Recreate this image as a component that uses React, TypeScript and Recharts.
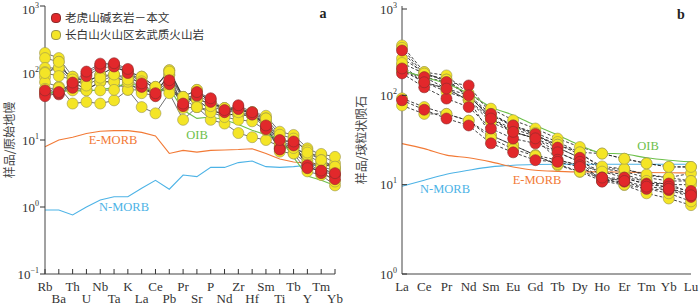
import React from "react";
import { LineChart, Line, XAxis, YAxis } from "recharts";

// primitive-mantle normalised elements (left panel)
const PM_ELEMS = ["Rb", "Ba", "Th", "U", "Nb", "Ta", "K", "La", "Ce", "Pb", "Pr", "Sr", "P", "Nd", "Zr", "Hf", "Sm", "Ti", "Tb", "Y", "Tm", "Yb"];
const PM_OIB = [50, 52, 55, 53, 57, 60, 72, 62, 52, 60, 28, 21, 22, 20, 17, 14, 12, 10.5, 5.5, 2.9, 2.5, 2.1];
const PM_EMORB = [7.9, 10, 11, 12.5, 13.5, 13.8, 13.8, 13, 11.5, 6.3, 7.0, 6.6, 7.0, 7.1, 7.2, 7.4, 6.3, 5.2, 4.7, 4.5, 4.3, 4.2];
const PM_NMORB = [0.9, 0.9, 0.76, 1.0, 1.27, 1.42, 1.42, 1.9, 2.5, 1.84, 3.0, 2.84, 3.9, 3.9, 4.6, 4.85, 4.0, 3.9, 4.0, 4.2, 4.2, 4.2];

const PM_RED = [
  [50, 48, 68, 98, 130, 135, 108, 66, 47, 72, 33, 50, 40, 27, 31, 25, 15.5, 7.5, 8.9, 4.0, 3.4, 3.0],
  [45, 50, 60, 90, 120, 125, 100, 62, 45, 68, 32, 46, 37, 26, 29, 24, 14.5, 7.2, 8.3, 4.2, 3.2, 2.6],
  [55, 52, 72, 105, 138, 140, 115, 70, 50, 78, 35, 52, 42, 28, 33, 26, 16.5, 10, 9.5, 3.8, 3.5, 3.2],
];
const PM_YELLOW = [
  [199, 167, 88, 74, 93, 123, 105, 88, 62, 110, 44, 56, 35, 30, 28, 26, 23, 13.3, 11.9, 7.5, 6, 4.5],
  [167, 147, 74, 56, 74, 93, 88, 88, 52, 93, 40, 40, 28, 24, 24, 23, 18.7, 10, 7.9, 6, 4.5, 3.8],
  [119, 119, 88, 74, 93, 93, 70, 56, 52, 62, 40, 31, 28, 24, 24, 23, 17.7, 9, 7.9, 4.5, 4, 3.5],
  [103, 119, 74, 74, 93, 123, 105, 88, 62, 110, 44, 56, 35, 30, 28, 26, 21, 10, 6.3, 3.4, 3.0, 2.1],
  [87, 147, 74, 56, 74, 74, 88, 56, 52, 93, 44, 40, 35, 30, 28, 26, 18, 7.6, 7.9, 5, 4, 3],
  [73, 62, 55, 56, 74, 74, 56, 56, 53, 56, 40, 40, 28, 24, 24, 23, 17, 6.7, 6.3, 4.5, 3.4, 2.4],
  [50, 62, 35, 37, 35, 39, 56, 31, 25, 50, 20, 31, 20, 17.6, 12.7, 11, 10, 8, 7.6, 6, 6.2, 5.6],
  [58, 60, 62, 55, 55, 56, 74, 50, 46, 100, 30, 31, 26, 22, 20, 19, 14, 9, 10, 7, 5, 3.8],
  [100, 90, 80, 65, 85, 95, 80, 75, 62, 105, 44, 45, 32, 27, 26, 24, 21, 12, 10.5, 6.5, 5, 4],
];

// chondrite normalised REE (right panel)
const REE = ["La", "Ce", "Pr", "Nd", "Sm", "Eu", "Gd", "Tb", "Dy", "Ho", "Er", "Tm", "Yb", "Lu"];
const CH_OIB = [190, 160, 135, 105, 74, 60, 46, 36, 27.6, 22.6, 22, 20, 18.8, 18];
const CH_EMORB = [28.8, 25.3, 21.4, 20, 18, 15.8, 14.5, 14.1, 13.9, 13.9, 13.8, 13.7, 13.6, 13.5];
const CH_NMORB = [9.6, 11.2, 13.1, 14.5, 15.8, 16.5, 16.8, 16.9, 16.9, 16.9, 16.9, 16.9, 16.9, 16.9];

const CH_RED = [
  [318, 160, 141, 129, 62, 46, 37, 26, 20, 12, 11.7, 10.3, 10.3, 8.0],
  [176, 123, 92, 74, 42.5, 32.8, 29, 23, 18, 11, 10.8, 9, 8.7, 7.3],
  [200, 140, 119, 100, 55, 39, 33, 19, 16.5, 10.8, 12, 10, 9.5, 8.5],
  [88, 69, 55, 46, 29, 23, 18.8, 18, 15.8, 12, 11, 9.5, 9, 7.6],
];
const CH_YELLOW = [
  [362, 182, 167, 105, 71, 52.7, 42.5, 32.8, 26.4, 22.3, 19.5, 17.3, 15.8, 15.8],
  [258, 182, 141, 100, 62, 46, 38, 30, 23, 15, 15, 12.7, 12, 13.4],
  [216, 140, 119, 88, 55, 39, 32.8, 26, 20, 15, 14, 12, 11, 11],
  [190, 160, 119, 88, 50, 38.9, 33, 23, 18, 14, 13, 11, 10, 10],
  [190, 140, 110, 90, 35.7, 27.7, 21.4, 16.5, 13.9, 11, 9.9, 8, 7, 5.9],
  [340, 170, 150, 100, 55, 42, 35, 28, 22, 16, 15, 13, 12, 11],
  [92.6, 74, 62, 52, 35.7, 27.7, 21.4, 18.8, 16.5, 14, 12, 11, 9, 8],
  [77, 62, 62, 52, 33, 25, 21, 17, 14, 12, 10, 9, 8, 6.5],
  [230, 175, 150, 95, 60, 45, 36, 28, 23, 22.3, 19.5, 17.3, 15.8, 15.8],
];

const SERIF = '"Liberation Serif", "Times New Roman", serif';
const CJK = '"Noto Sans CJK SC", sans-serif';
const GREEN = "#6cc04a";
const ORANGE = "#f27a36";
const BLUE = "#4db3e6";
const FRAME = "#444";
const RED_DOT = { r: 5.5, fill: "#e2282b", stroke: "#8a2b2b", strokeWidth: 0.6 };
const YEL_DOT = { r: 5.5, fill: "#f4e526", stroke: "#9a9550", strokeWidth: 0.6 };

function buildRows(elems: string[], oib: number[], em: number[], nm: number[], red: number[][], yel: number[][]) {
  return elems.map((el, i) => {
    const row: Record<string, string | number> = { el, oib: oib[i], emorb: em[i], nmorb: nm[i] };
    red.forEach((s, k) => (row[`r${k}`] = s[i]));
    yel.forEach((s, k) => (row[`y${k}`] = s[i]));
    return row;
  });
}

const pmRows = buildRows(PM_ELEMS, PM_OIB, PM_EMORB, PM_NMORB, PM_RED, PM_YELLOW);
const chRows = buildRows(REE, CH_OIB, CH_EMORB, CH_NMORB, CH_RED, CH_YELLOW);

function PowTick(props: any) {
  const { x, y, payload, inner } = props;
  const e = Math.round(Math.log10(payload.value));
  return (
    <g>
      {inner && <line x1={x + 5} x2={x + 10} y1={y} y2={y} stroke="#333" />}
      <text x={x} y={y} dy={4.5} textAnchor="end" fontFamily={SERIF} fontSize={13} fill="#333">
        10
        <tspan dy={-6} fontSize={8}>{e < 0 ? "\u2212" + -e : e}</tspan>
      </text>
    </g>
  );
}

function ElemTick(props: any) {
  const { x, y, payload, index, alt } = props;
  const second = alt && index % 2 === 1;
  return (
    <g>
      {alt && <line x1={x} x2={x} y1={y} y2={y - 5} stroke="#333" />}
      <text x={x} y={y + (second ? 28.5 : 16.5)} textAnchor="middle" fontFamily={SERIF} fontSize={13} fill="#333">
        {payload.value}
      </text>
    </g>
  );
}

function Panel({ rows, nRed, nYel, domain, ticks, yWidth, right, alt, dashed, smoothRef }: any) {
  const lineType = smoothRef ? "monotone" : "linear";
  const sampleKeys = [...Array.from({ length: nYel }, (_, k) => `y${k}`), ...Array.from({ length: nRed }, (_, k) => `r${k}`)];
  return (
    <LineChart width={350} height={304} data={rows} margin={{ top: 6, right, left: 0, bottom: 0 }}>
      <XAxis dataKey="el" interval={0} height={30} tickSize={0} tickMargin={0} tickLine={false} stroke={FRAME}
        tick={(p: any) => <ElemTick {...p} alt={alt} />} />
      <XAxis xAxisId="top" dataKey="el" orientation="top" height={0} tick={false} tickLine={false} stroke={FRAME} />
      <YAxis scale="log" domain={domain} ticks={ticks} allowDataOverflow width={yWidth} stroke={FRAME}
        tickSize={alt ? 5 : 0} tickMargin={alt ? 1 : 5} tickLine={alt ? { stroke: "#333" } : false}
        tick={(p: any) => <PowTick {...p} inner={!alt} />} />
      <YAxis yAxisId="rt" orientation="right" scale="log" domain={domain} allowDataOverflow width={0} tick={false} tickLine={false} stroke={FRAME} />
      <Line dataKey="nmorb" type={lineType} stroke={BLUE} strokeWidth={1.1} dot={false} activeDot={false} isAnimationActive={false} />
      <Line dataKey="emorb" type={lineType} stroke={ORANGE} strokeWidth={1.1} dot={false} activeDot={false} isAnimationActive={false} />
      {sampleKeys.map((k) => (
        <Line key={`l-${k}`} dataKey={k} type="linear" stroke={dashed ? "#2a2a2a" : "#333"} strokeWidth={dashed ? 0.9 : 0.7}
          strokeDasharray={dashed ? "3 2" : undefined} dot={false} activeDot={false} isAnimationActive={false} />
      ))}
      <Line dataKey="oib" type={lineType} stroke={GREEN} strokeWidth={1.1} dot={false} activeDot={false} isAnimationActive={false} />
      {sampleKeys.map((k) => (
        <Line key={`d-${k}`} dataKey={k} type="linear" stroke="none" dot={k[0] === "r" ? RED_DOT : YEL_DOT}
          activeDot={false} isAnimationActive={false} />
      ))}
    </LineChart>
  );
}

const abs = (left: number, top: number, extra: React.CSSProperties = {}): React.CSSProperties => ({
  position: "absolute", left, top, transform: "translate(-50%, -50%)", whiteSpace: "nowrap", lineHeight: 1, ...extra,
});

export default function App() {
  return (
    <div style={{ position: "relative", width: 700, height: 304, background: "#fff", overflow: "hidden" }}>
      <style>{"body{margin:0}"}</style>
      <div style={{ position: "absolute", left: 0, top: 0 }}>
        <Panel rows={pmRows} nRed={PM_RED.length} nYel={PM_YELLOW.length} domain={[0.1, 1000]} ticks={[0.1, 1, 10, 100, 1000]}
          yWidth={45} right={15} alt />
      </div>
      <div style={{ position: "absolute", left: 350, top: 0 }}>
        <Panel rows={chRows} nRed={CH_RED.length} nYel={CH_YELLOW.length} domain={[1, 1000]} ticks={[1, 10, 100, 1000]}
          yWidth={52} right={9} dashed smoothRef />
      </div>

      <div style={abs(9, 140, { transform: "translate(-50%, -50%) rotate(-90deg)", fontFamily: CJK, fontSize: 12, color: "#444" })}>样品/原始地幔</div>
      <div style={abs(361, 140, { transform: "translate(-50%, -50%) rotate(-90deg)", fontFamily: CJK, fontSize: 12, color: "#444" })}>样品/球粒状陨石</div>

      <div style={abs(323, 14, { fontFamily: SERIF, fontWeight: 700, fontSize: 14, color: "#222" })}>a</div>
      <div style={abs(681, 15, { fontFamily: SERIF, fontWeight: 700, fontSize: 14, color: "#222" })}>b</div>

      <div style={abs(113, 140, { fontFamily: SERIF, fontSize: 12.5, color: ORANGE })}>E-MORB</div>
      <div style={abs(197, 135, { fontFamily: SERIF, fontSize: 12.5, color: GREEN })}>OIB</div>
      <div style={abs(124, 207, { fontFamily: SERIF, fontSize: 12.5, color: BLUE })}>N-MORB</div>
      <div style={abs(648, 146, { fontFamily: SERIF, fontSize: 12.5, color: GREEN })}>OIB</div>
      <div style={abs(537, 180, { fontFamily: SERIF, fontSize: 12.5, color: ORANGE })}>E-MORB</div>
      <div style={abs(445, 189, { fontFamily: SERIF, fontSize: 12.5, color: BLUE })}>N-MORB</div>

      <div style={{ position: "absolute", left: 51, top: 9, fontFamily: CJK, fontSize: 11.6, color: "#333", lineHeight: "17px" }}>
        <div style={{ display: "flex", alignItems: "center" }}>
          <span style={{ display: "inline-block", width: 8, height: 8, borderRadius: 4, background: "#e2282b", border: "0.6px solid #8a2b2b", marginRight: 4 }} />
          老虎山碱玄岩－本文
        </div>
        <div style={{ display: "flex", alignItems: "center" }}>
          <span style={{ display: "inline-block", width: 8, height: 8, borderRadius: 4, background: "#f4e526", border: "0.6px solid #9a9550", marginRight: 4 }} />
          长白山火山区玄武质火山岩
        </div>
      </div>
    </div>
  );
}
